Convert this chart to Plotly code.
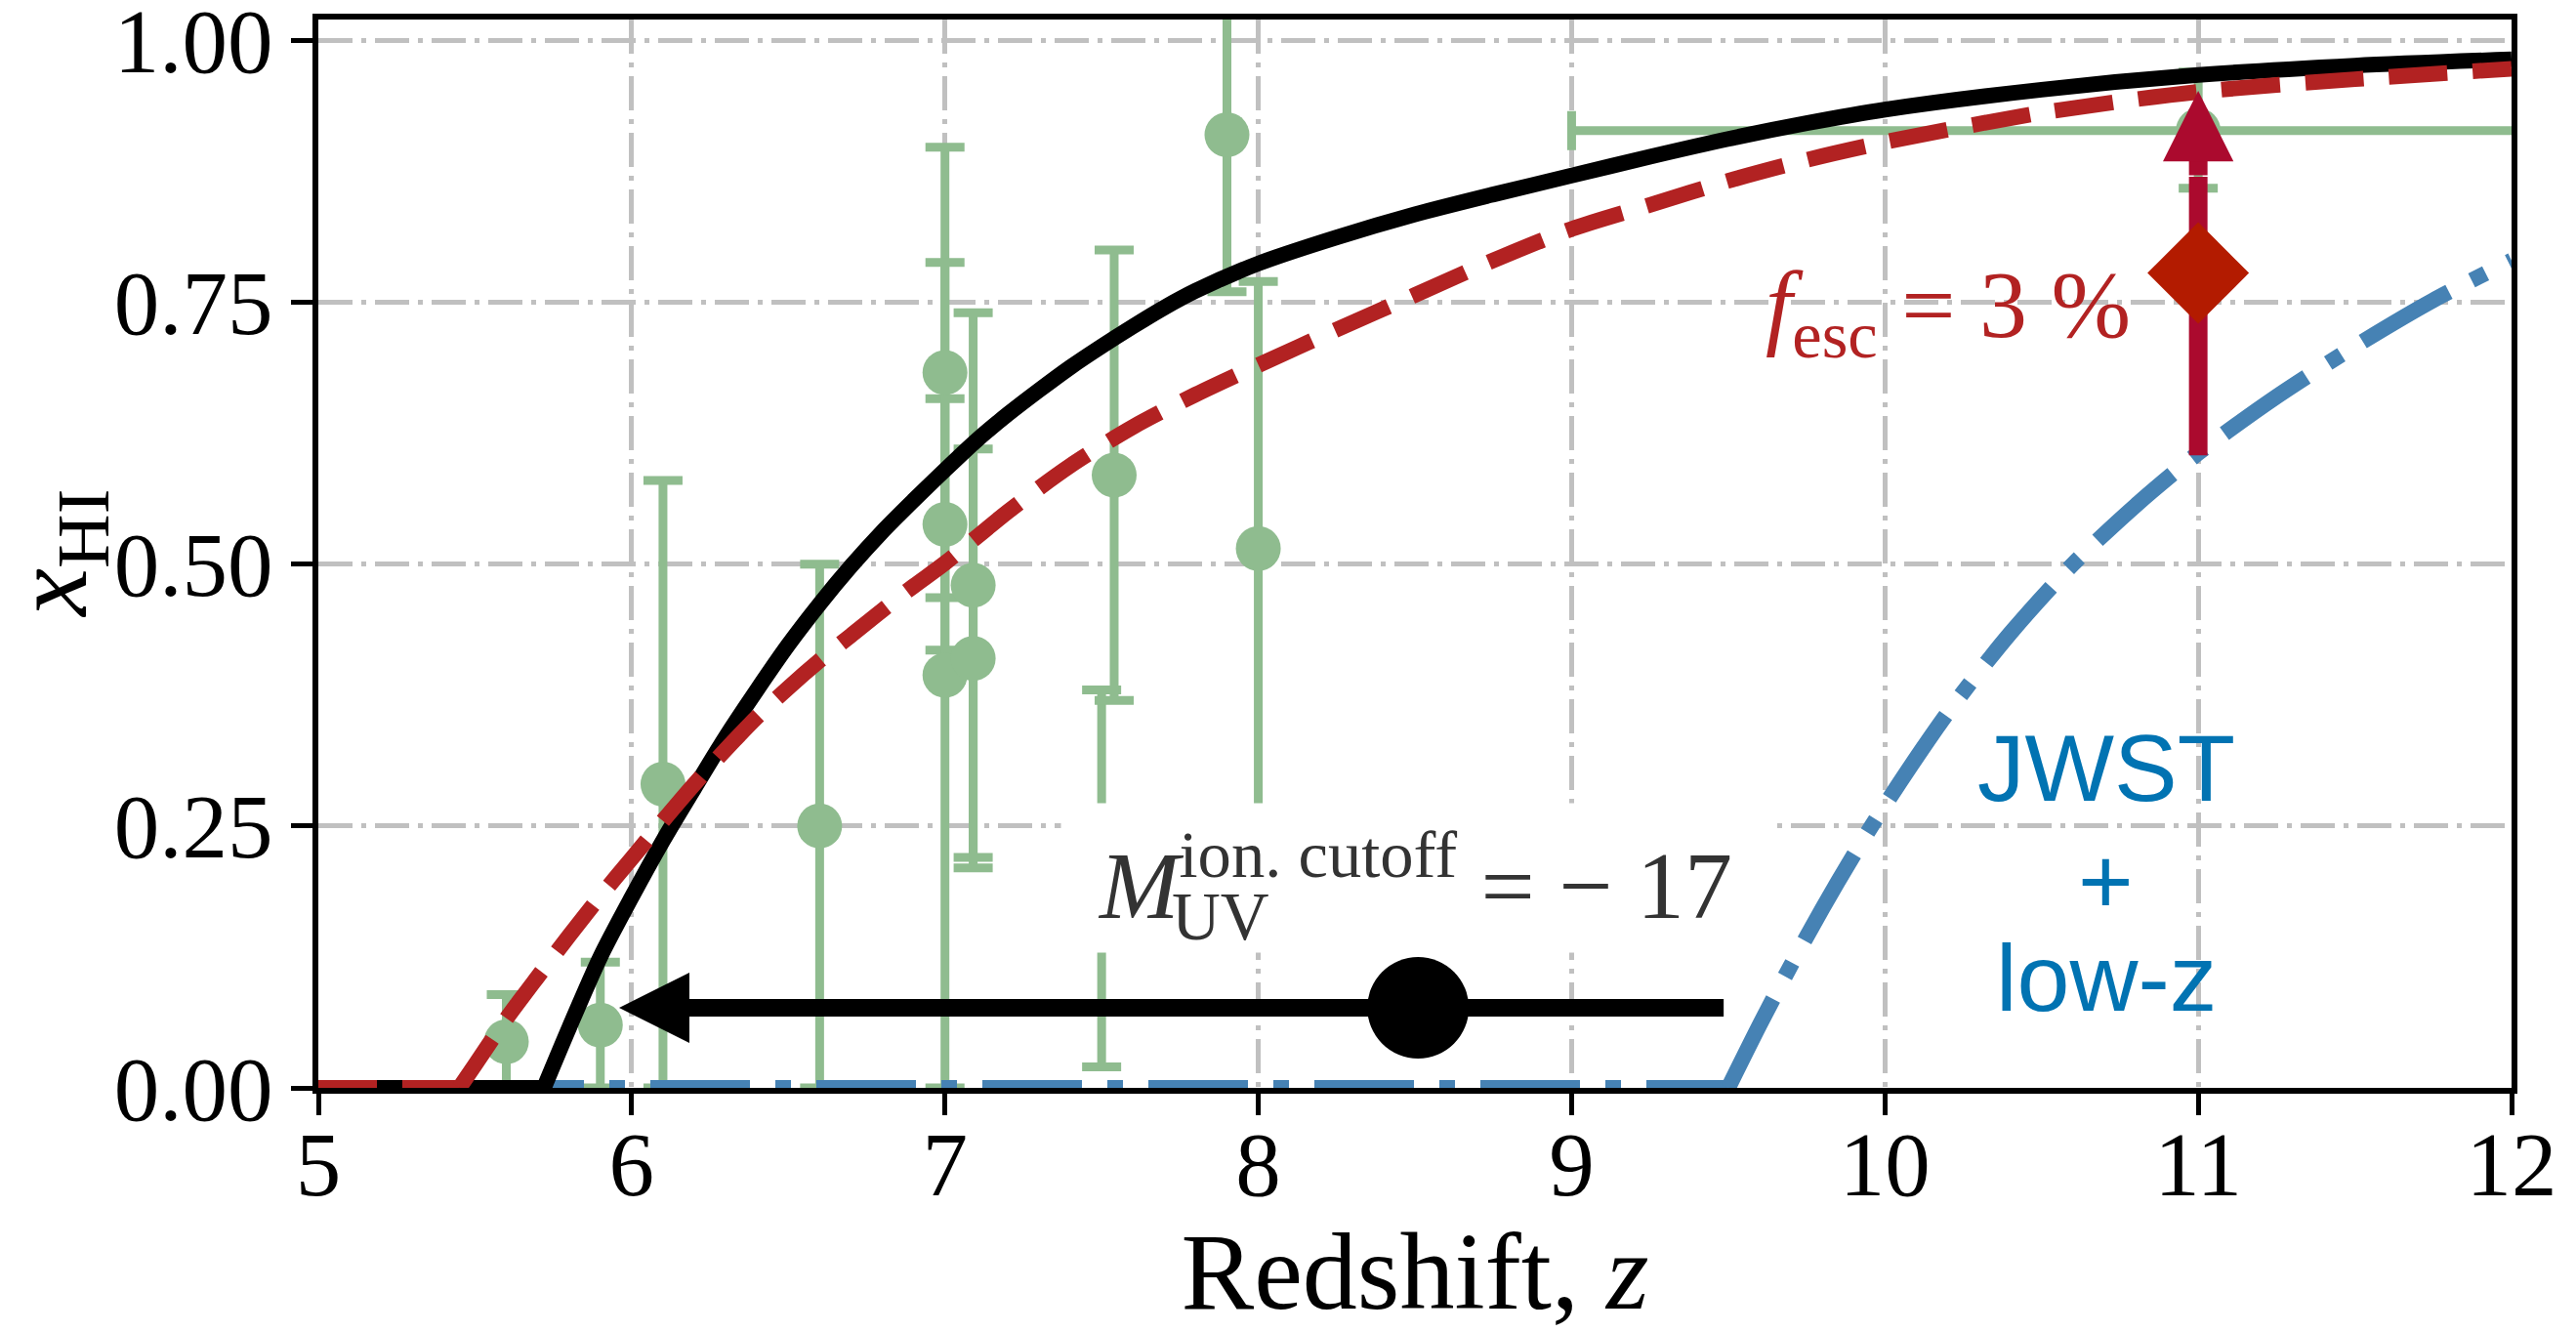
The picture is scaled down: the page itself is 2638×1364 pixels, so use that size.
import plotly.graph_objects as go

# ---------------- data ----------------
# fiducial model (black solid)
z_fid = [5.0, 5.72, 5.8, 5.9, 6.0, 6.1, 6.2, 6.3, 6.4, 6.5, 6.6, 6.7, 6.8, 6.9, 7.0,
         7.1, 7.2, 7.3, 7.4, 7.5, 7.6, 7.7, 7.8, 8.0, 8.25, 8.5, 8.75, 9.0, 9.25, 9.5,
         9.75, 10.0, 10.5, 11.0, 11.5, 12.0]
x_fid = [0.0, 0.0, 0.057, 0.125, 0.182, 0.236, 0.286, 0.335, 0.38, 0.423, 0.462, 0.498,
         0.531, 0.561, 0.59, 0.618, 0.643, 0.666, 0.688, 0.708, 0.727, 0.745, 0.761,
         0.787, 0.812, 0.834, 0.853, 0.871, 0.889, 0.906, 0.921, 0.934, 0.953, 0.967,
         0.976, 0.982]

# f_esc = 3% model (red dashed)
z_fesc = [5.0, 5.45, 5.5, 5.6, 5.7, 5.8, 5.9, 6.0, 6.1, 6.2, 6.3, 6.4, 6.5, 6.6, 6.7,
          6.8, 6.9, 7.0, 7.2, 7.4, 7.6, 7.8, 8.0, 8.25, 8.5, 8.75, 9.0, 9.25, 9.5, 9.75,
          10.0, 10.5, 11.0, 11.5, 12.0]
x_fesc = [0.0, 0.0, 0.022, 0.066, 0.106, 0.145, 0.183, 0.219, 0.255, 0.29, 0.323, 0.354,
          0.382, 0.408, 0.432, 0.456, 0.479, 0.501, 0.55, 0.594, 0.631, 0.662, 0.69,
          0.724, 0.757, 0.79, 0.82, 0.843, 0.866, 0.886, 0.903, 0.931, 0.951, 0.963, 0.973]

# JWST + low-z model (blue dash-dot)
z_jwst = [5.0, 9.5, 9.6, 9.7, 9.8, 9.9, 10.0, 10.2, 10.4, 10.6, 10.8, 11.0, 11.25,
          11.5, 11.75, 12.0]
x_jwst = [0.0, 0.0, 0.06, 0.117, 0.171, 0.222, 0.27, 0.358, 0.434, 0.5, 0.556, 0.606,
          0.66, 0.708, 0.752, 0.79]

# observational constraints (green)
z_obs = [5.6, 5.9, 6.1, 6.6, 7.0, 7.0, 7.0, 7.09, 7.09, 7.5, 7.54, 7.9, 8.0]
x_obs = [0.044, 0.06, 0.29, 0.25, 0.683, 0.538, 0.394, 0.48, 0.41, 0.20, 0.585, 0.91, 0.515]
err_up = [0.045, 0.06, 0.29, 0.25, 0.215, 0.12, 0.394, 0.26, 0.20, 0.18, 0.215, 0.15, 0.255]
err_dn = [0.044, 0.06, 0.29, 0.25, 0.215, 0.12, 0.394, 0.26, 0.20, 0.18, 0.215, 0.15, 0.255]

# high-z constraint with redshift range
z_hi = [11.0]
x_hi = [0.914]
x_hi_up = [0.056]
x_hi_dn = [0.055]
z_hi_err = [2.0]

# M_UV cutoff marker and arrow
cut_z = [8.51]
cut_x = [0.0765]
cut_arrow_from = 9.49
cut_arrow_to = 5.96

# f_esc marker and arrow
fesc_z = [11.0]
fesc_x = [0.778]
fesc_arrow_low = 0.604
fesc_arrow_head_base = 0.87
fesc_arrow_tip = 0.952

x_ticks = [5, 6, 7, 8, 9, 10, 11, 12]
y_ticks = [0.0, 0.25, 0.5, 0.75, 1.0]

# ---------------- styles ----------------
GREEN = "#8FBC8F"
BLUE = "#4682B4"
RED = "#B22222"
ARROW_RED = "#AB0A2E"
DIAMOND_RED = "#B31B00"
TXT_BLUE = "#0173B2"
SERIF = "Liberation Serif"
SANS = "Liberation Sans"
LW = 16


def split_at_kink(z, x):
    """Return the flat (x == 0) part and the rising part of a model curve."""
    k = max(i for i, v in enumerate(x) if v == 0.0)
    return (z[:k + 1], x[:k + 1]), (z[k:], x[k:])


fig = go.Figure()

fig.add_trace(go.Scatter(
    x=z_obs, y=x_obs, mode="markers",
    marker=dict(size=46, color=GREEN, line=dict(width=0)),
    error_y=dict(type="data", symmetric=False, array=err_up, arrayminus=err_dn,
                 color=GREEN, thickness=9, width=20),
    showlegend=False))

fig.add_trace(go.Scatter(
    x=z_hi, y=x_hi, mode="markers",
    marker=dict(size=46, color=GREEN, line=dict(width=0)),
    error_y=dict(type="data", symmetric=False, array=x_hi_up, arrayminus=x_hi_dn,
                 color=GREEN, thickness=9, width=20),
    error_x=dict(type="data", array=z_hi_err, color=GREEN, thickness=9, width=20),
    showlegend=False))

models = [
    (z_jwst, x_jwst, BLUE, "102px,26px,16px,26px"),
    (z_fid, x_fid, "black", "solid"),
    (z_fesc, x_fesc, RED, "60px,26px"),
]
for zz, xx, col, dash in models:
    (zf, xf), (zr, xr) = split_at_kink(zz, xx)
    fig.add_trace(go.Scatter(x=zf, y=xf, mode="lines",
                             line=dict(color=col, width=LW, dash=dash),
                             showlegend=False))
    fig.add_trace(go.Scatter(x=zr, y=xr, mode="lines",
                             line=dict(color=col, width=LW, dash=dash,
                                       shape="spline", smoothing=0.8),
                             showlegend=False))

# f_esc arrow shaft (under the diamond)
fig.add_trace(go.Scatter(
    x=[fesc_z[0], fesc_z[0]], y=[fesc_arrow_low, fesc_arrow_head_base], mode="lines",
    line=dict(color=ARROW_RED, width=19), showlegend=False))

fig.add_trace(go.Scatter(
    x=fesc_z, y=fesc_x, mode="markers",
    marker=dict(symbol="diamond", size=80, color=DIAMOND_RED, line=dict(width=0)),
    showlegend=False))

fig.add_trace(go.Scatter(
    x=cut_z, y=cut_x, mode="markers",
    marker=dict(size=104, color="black", line=dict(width=0)),
    showlegend=False))

annotations = [
    # black arrow
    dict(x=cut_arrow_to, y=cut_x[0], ax=cut_arrow_from, ay=cut_x[0],
         xref="x", yref="y", axref="x", ayref="y", text="", showarrow=True,
         arrowhead=2, arrowsize=0.8, arrowwidth=18, arrowcolor="black"),
    # red arrow head
    dict(x=fesc_z[0], y=fesc_arrow_tip, ax=fesc_z[0], ay=fesc_arrow_head_base,
         xref="x", yref="y", axref="x", ayref="y", text="", showarrow=True,
         arrowhead=2, arrowsize=0.76, arrowwidth=19, arrowcolor=ARROW_RED),
    # M_UV label with white box
    dict(x=8.5, y=0.2, xref="x", yref="y", showarrow=False,
         text="<i>M</i><sup>ion. cutoff</sup> = − 17",
         font=dict(family=SERIF, size=98, color="#333333"),
         bgcolor="white", width=722, height=150, align="center", valign="middle"),
    dict(x=7.717, y=0.163, xref="x", yref="y", showarrow=False, xanchor="left",
         yanchor="middle", text="UV",
         font=dict(family=SERIF, size=69, color="#333333")),
    # f_esc label
    dict(x=10.79, y=0.741, xref="x", yref="y", showarrow=False, xanchor="right",
         yanchor="middle", text="<i>f</i><sub>esc</sub> = 3 %",
         font=dict(family=SERIF, size=98, color=RED)),
    # JWST + low-z label
    dict(x=10.706, y=0.305, xref="x", yref="y", showarrow=False, yanchor="middle",
         text="JWST", font=dict(family=SANS, size=97, color=TXT_BLUE)),
    dict(x=10.706, y=0.197, xref="x", yref="y", showarrow=False, yanchor="middle",
         text="+", font=dict(family=SANS, size=97, color=TXT_BLUE)),
    dict(x=10.706, y=0.105, xref="x", yref="y", showarrow=False, yanchor="middle",
         text="low-z", font=dict(family=SANS, size=97, color=TXT_BLUE)),
    # y-axis title
    dict(x=-0.119, y=0.5, xref="paper", yref="paper", showarrow=False,
         xanchor="center", yanchor="middle", textangle=-90,
         text="<i>x</i><sub>HI</sub>", font=dict(family=SERIF, size=110, color="black")),
]

grid_dash = "35px,9px,5px,9px"
axis_common = dict(
    showline=True, linecolor="black", linewidth=6, mirror=True,
    ticks="outside", ticklen=22, tickwidth=5, tickcolor="black",
    showgrid=True, gridcolor="#C0C0C0", gridwidth=5, griddash=grid_dash,
    zeroline=False, ticklabeloverflow="allow",
    tickfont=dict(family=SERIF, size=93, color="black"),
)

fig.update_layout(
    width=2638, height=1364,
    margin=dict(l=326, r=66, t=20, b=250, autoexpand=False),
    paper_bgcolor="white", plot_bgcolor="white",
    font=dict(family=SERIF, color="black"),
    xaxis=dict(range=[5, 12], tickvals=x_ticks, ticktext=[str(v) for v in x_ticks],
               ticklabelstandoff=-30,
               title=dict(text="Redshift, <i>z</i>", font=dict(family=SERIF, size=112), standoff=46),
               **axis_common),
    yaxis=dict(range=[0, 1.02], tickvals=y_ticks, ticktext=[f"{v:.2f}" for v in y_ticks],
               **axis_common),
    annotations=annotations,
    showlegend=False,
)

fig.write_html("out.html")
